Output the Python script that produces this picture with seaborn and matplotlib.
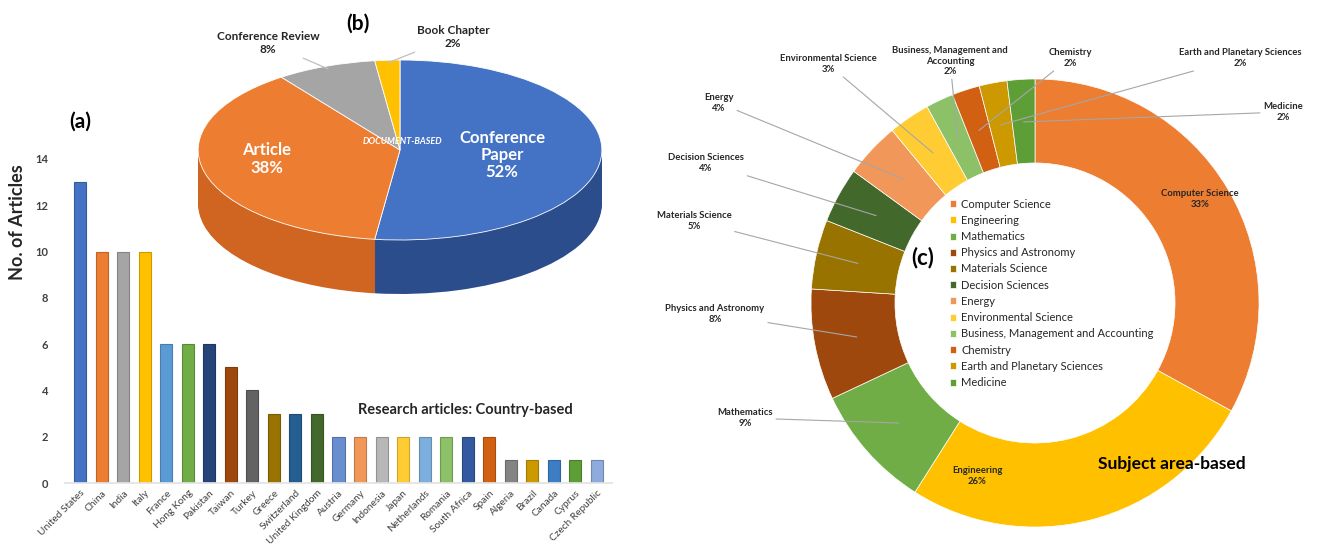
import matplotlib
matplotlib.use("Agg")
import matplotlib.pyplot as plt
import seaborn as sns
import numpy as np
import pandas as pd
from matplotlib.colors import to_rgb

# ---------------- data ----------------
countries = ["United States", "China", "India", "Italy", "France", "Hong Kong",
             "Pakistan", "Taiwan", "Turkey", "Greece", "Switzerland",
             "United Kingdom", "Austria", "Germany", "Indonesia", "Japan",
             "Netherlands", "Romania", "South Africa", "Spain", "Algeria",
             "Brazil", "Canada", "Cyprus", "Czech Republic"]
article_counts = [13, 10, 10, 10, 6, 6, 6, 5, 4, 3, 3, 3,
                  2, 2, 2, 2, 2, 2, 2, 2, 1, 1, 1, 1, 1]
bar_colors = ["#4472C4", "#ED7D31", "#A5A5A5", "#FFC000", "#5B9BD5", "#70AD47",
              "#264478", "#9E480E", "#636363", "#997300", "#255E91", "#43682B",
              "#698ED0", "#F1975A", "#B7B7B7", "#FFCD33", "#7CAFDD", "#8CC168",
              "#335AA1", "#D26012", "#848484", "#CC9A00", "#3C7DC4", "#5E9E37",
              "#8FAADC"]
y_ticks = [0, 2, 4, 6, 8, 10, 12, 14]

doc_types = ["Conference Paper", "Article", "Conference Review", "Book Chapter"]
doc_share = [52, 38, 8, 2]
doc_colors = ["#4472C4", "#ED7D31", "#A5A5A5", "#FFC000"]
doc_side_colors = ["#2C4D8C", "#CF6520", "#7F7F7F", "#BF9000"]

subjects = ["Computer Science", "Engineering", "Mathematics", "Physics and Astronomy",
            "Materials Science", "Decision Sciences", "Energy", "Environmental Science",
            "Business, Management and Accounting", "Chemistry",
            "Earth and Planetary Sciences", "Medicine"]
subject_share = [33, 26, 9, 8, 5, 4, 4, 3, 2, 2, 2, 2]
subject_colors = ["#ED7D31", "#FFC000", "#70AD47", "#9E480E", "#997300", "#43682B",
                  "#F1975A", "#FFCD33", "#8CC168", "#D26012", "#CC9A00", "#5E9E37"]
subject_label_names = ["Computer Science", "Engineering", "Mathematics",
                       "Physics and Astronomy", "Materials Science", "Decision Sciences",
                       "Energy", "Environmental Science",
                       "Business, Management and\nAccounting", "Chemistry",
                       "Earth and Planetary Sciences", "Medicine"]

# ---------------- layout helpers ----------------
W, H = 1321, 551
sns.set_theme(style="white")
plt.rcParams["font.family"] = ["Lato", "DejaVu Sans"]

fig = plt.figure(figsize=(W / 100, H / 100), dpi=100)
fig.patch.set_facecolor("white")


def rect(x0, y0, x1, y1):
    return [x0 / W, 1 - y1 / H, (x1 - x0) / W, (y1 - y0) / H]


def fxy(x, y):
    return (x / W, 1 - y / H)


def darker(c, f=0.75):
    r, g, b = to_rgb(c)
    return (r * f, g * f, b * f)


TXT = "#262626"

# ---------------- (a) bar chart ----------------
axb = fig.add_axes(rect(65, 152, 612, 483))
df = pd.DataFrame({"country": countries, "count": article_counts})
sns.barplot(data=df, x="country", y="count", hue="country", palette=bar_colors,
            width=0.56, saturation=1, legend=False, ax=axb)
for cont, col in zip(axb.containers, bar_colors):
    for p in cont:
        p.set_edgecolor(darker(col, 0.8))
        p.set_linewidth(0.8)
axb.set_xlim(-0.7, 24.7)
axb.set_ylim(0, 14.3)
axb.set_yticks(y_ticks)
axb.set_yticklabels([str(t) for t in y_ticks], fontsize=8, color="#404040",
                    fontweight="bold")
axb.set_xticks(range(len(countries)))
axb.set_xticklabels(countries, rotation=45, ha="right", rotation_mode="anchor",
                    fontsize=7.3, color="#404040")
axb.tick_params(axis="x", length=0, pad=4)
axb.tick_params(axis="y", length=0, pad=12)
for s in ["top", "right", "left"]:
    axb.spines[s].set_visible(False)
axb.spines["bottom"].set_color("#E3E3E3")
axb.set_xlabel("")
axb.set_ylabel("")
axb.grid(False)
axb.set_facecolor("none")

fig.text(*fxy(18, 222), "No. of Articles", rotation=90, ha="center", va="center",
         fontsize=13, fontweight="bold", color=TXT)
fig.text(*fxy(80, 122), "(a)", ha="center", va="center", fontsize=15,
         fontweight="bold", color="black")
fig.text(*fxy(465, 410), "Research articles: Country-based", ha="center",
         va="center", fontsize=10.5, fontweight="bold", color=TXT)

# ---------------- (b) 3D-looking pie ----------------
axp = fig.add_axes(rect(178, 51, 622, 303))
depth = 0.6
for d in np.linspace(depth, 0.0, 36)[:-1]:
    axp.pie(doc_share, colors=doc_side_colors, startangle=90, counterclock=False,
            center=(0, -d), wedgeprops=dict(linewidth=0))
pw, _ = axp.pie(doc_share, colors=doc_colors, startangle=90, counterclock=False,
                center=(0, 0), wedgeprops=dict(edgecolor="white", linewidth=0.6))
axp.set_aspect("auto")
axp.set_xlim(-1.1, 1.1)
axp.set_ylim(-1.7, 1.1)
axp.axis("off")


def wedge_mid(w, r):
    t = np.deg2rad((w.theta1 + w.theta2) / 2)
    cx, cy = w.center
    return (cx + r * np.cos(t), cy + r * np.sin(t))


fig.text(*fxy(502, 155), "Conference\nPaper\n52%", ha="center", va="center",
         fontsize=12, fontweight="bold", color="white", linespacing=1.05)
fig.text(*fxy(267, 159), "Article\n38%", ha="center", va="center",
         fontsize=12, fontweight="bold", color="white", linespacing=1.1)
fig.text(*fxy(402, 142), "DOCUMENT-BASED", ha="center", va="center",
         fontsize=6.5, fontweight="bold", fontstyle="italic", color="white")
axp.annotate("Conference Review\n8%", xy=wedge_mid(pw[2], 0.97),
             xytext=fxy(268, 43), textcoords="figure fraction",
             ha="center", va="center", fontsize=8.5, fontweight="bold", color=TXT,
             arrowprops=dict(arrowstyle="-", color="#BFBFBF", lw=0.9,
                             shrinkA=0, shrinkB=0))
axp.annotate("Book Chapter\n2%", xy=wedge_mid(pw[3], 0.97),
             xytext=fxy(453, 37), textcoords="figure fraction",
             ha="center", va="center", fontsize=8.5, fontweight="bold", color=TXT,
             arrowprops=dict(arrowstyle="-", color="#BFBFBF", lw=0.9,
                             shrinkA=0, shrinkB=0))
fig.text(*fxy(358, 24), "(b)", ha="center", va="center", fontsize=15,
         fontweight="bold", color="black")

# ---------------- (c) donut ----------------
axd = fig.add_axes(rect(806.5, 74.5, 1263.5, 531.5))
dw, _ = axd.pie(subject_share, colors=subject_colors, startangle=90,
                counterclock=False, radius=1,
                wedgeprops=dict(width=0.375, edgecolor="white", linewidth=0.5))
axd.set_xlim(-1.02, 1.02)
axd.set_ylim(-1.02, 1.02)
axd.set_aspect("equal")
axd.axis("off")

label_pos = [(1200, 199), (977, 476), (745, 418), (715, 314), (694, 221),
             (706, 163), (719, 103), (828, 64), (950, 61), (1070, 58),
             (1240, 58), (1283, 112)]
for i, (name, pct) in enumerate(zip(subject_label_names, subject_share)):
    txt = f"{name}\n{pct}%"
    if i < 2:
        fig.text(*fxy(*label_pos[i]), txt, ha="center", va="center",
                 fontsize=6.8, fontweight="bold", color=TXT, linespacing=1.2)
    else:
        axd.annotate(txt, xy=wedge_mid(dw[i], 0.81), xytext=fxy(*label_pos[i]),
                     textcoords="figure fraction", ha="center", va="center",
                     fontsize=6.8, fontweight="bold", color=TXT, linespacing=1.2,
                     arrowprops=dict(arrowstyle="-", color="#A6A6A6", lw=0.8,
                                     shrinkA=0, shrinkB=0))

leg = axd.legend(dw, subjects, loc="upper left",
                 bbox_to_anchor=fxy(944, 193), bbox_transform=fig.transFigure,
                 frameon=False, fontsize=8, handlelength=0.6, handleheight=0.6,
                 handletextpad=0.45, labelspacing=0.47, borderpad=0)
for t in leg.get_texts():
    t.set_color(TXT)

fig.text(*fxy(923, 258), "(c)", ha="center", va="center", fontsize=16,
         fontweight="bold", color="black")
fig.text(*fxy(1172, 464), "Subject area-based", ha="center", va="center",
         fontsize=12.5, fontweight="bold", color="black")

fig.savefig("out.png", dpi=100, facecolor="white")
